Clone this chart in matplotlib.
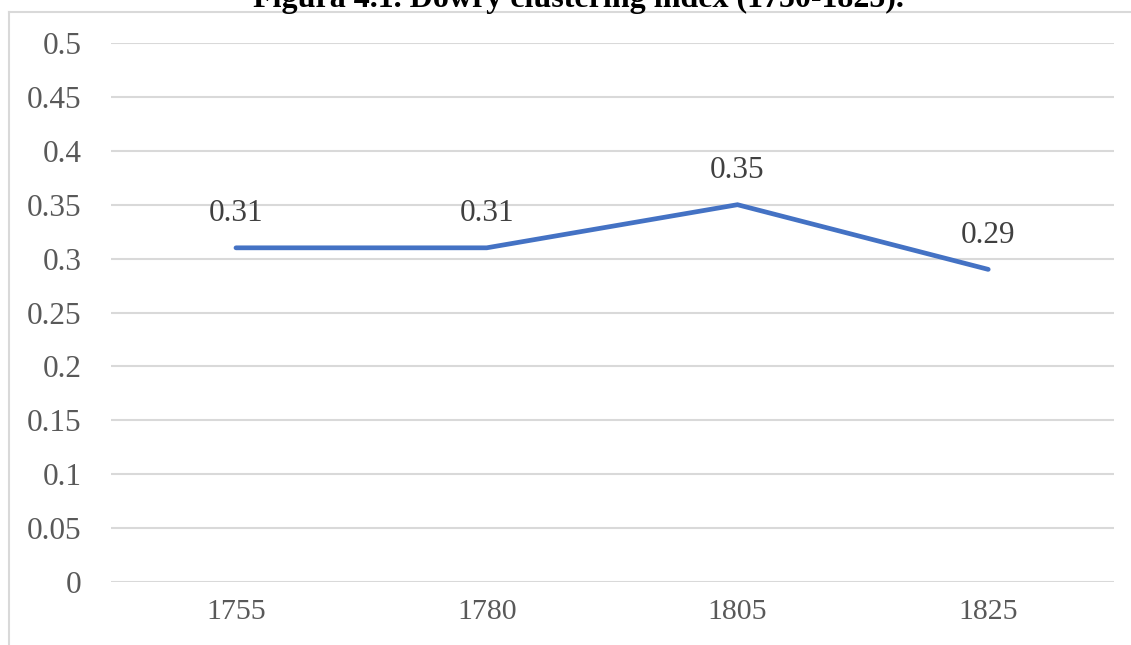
import matplotlib
matplotlib.use("Agg")
import matplotlib.pyplot as plt
from matplotlib.lines import Line2D

years = ["1755", "1780", "1805", "1825"]
values = [0.31, 0.31, 0.35, 0.29]
labels = ["0.31", "0.31", "0.35", "0.29"]
yticks = [0, 0.05, 0.1, 0.15, 0.2, 0.25, 0.3, 0.35, 0.4, 0.45, 0.5]
ytick_labels = ["0", "0.05", "0.1", "0.15", "0.2", "0.25", "0.3", "0.35", "0.4", "0.45", "0.5"]
title = "Figura 4.1. Dowry clustering index (1750-1825)."

W, H = 1131, 645
fig = plt.figure(figsize=(W / 100, H / 100), dpi=100)
plt.rcParams['font.family'] = ['Liberation Serif', 'DejaVu Serif']

# axes: x from 110.6 to 1113.6 px ; y 0 at 582, 0.5 at 43
left = 110.6 / W
right = 1113.6 / W
bottom = 1 - 582 / H
top = 1 - 43 / H
ax = fig.add_axes([left, bottom, right - left, top - bottom])

x = list(range(len(years)))
ax.plot(x, values, color="#4472C4", linewidth=3.4, solid_capstyle="round", solid_joinstyle="miter", zorder=3)
for xi, v, lab in zip(x, values, labels):
    ax.annotate(lab, (xi, v), xytext=(0, 14), textcoords="offset points",
                ha="center", va="bottom", fontsize=22.5, color="#404040")

ax.set_xlim(-0.5, len(years) - 0.5)
ax.set_ylim(0, 0.5)
ax.set_yticks(yticks)
ax.set_yticklabels(ytick_labels, fontsize=22.5, color="#595959")
ax.set_xticks(x)
ax.set_xticklabels(years, fontsize=21.5, color="#595959")
ax.tick_params(axis="both", length=0)
ax.tick_params(axis="y", pad=21)
ax.tick_params(axis="x", pad=12)
ax.grid(axis="y", color="#D9D9D9", linewidth=1.5)
ax.set_axisbelow(True)
for s in ax.spines.values():
    s.set_visible(False)
ax.patch.set_visible(False)

# outer chart border (left and top visible)
fig.add_artist(Line2D([8.5 / W, 8.5 / W], [0, 1 - 12 / H], transform=fig.transFigure, color="#D9D9D9", linewidth=1.5))
fig.add_artist(Line2D([8.5 / W, 1.0], [1 - 12 / H, 1 - 12 / H], transform=fig.transFigure, color="#D9D9D9", linewidth=1.5))

fig.text(578 / W, 1 - 7 / H, title, ha="center", va="baseline", fontsize=23, fontweight="bold", color="black")

fig.savefig("out.png", dpi=100)
